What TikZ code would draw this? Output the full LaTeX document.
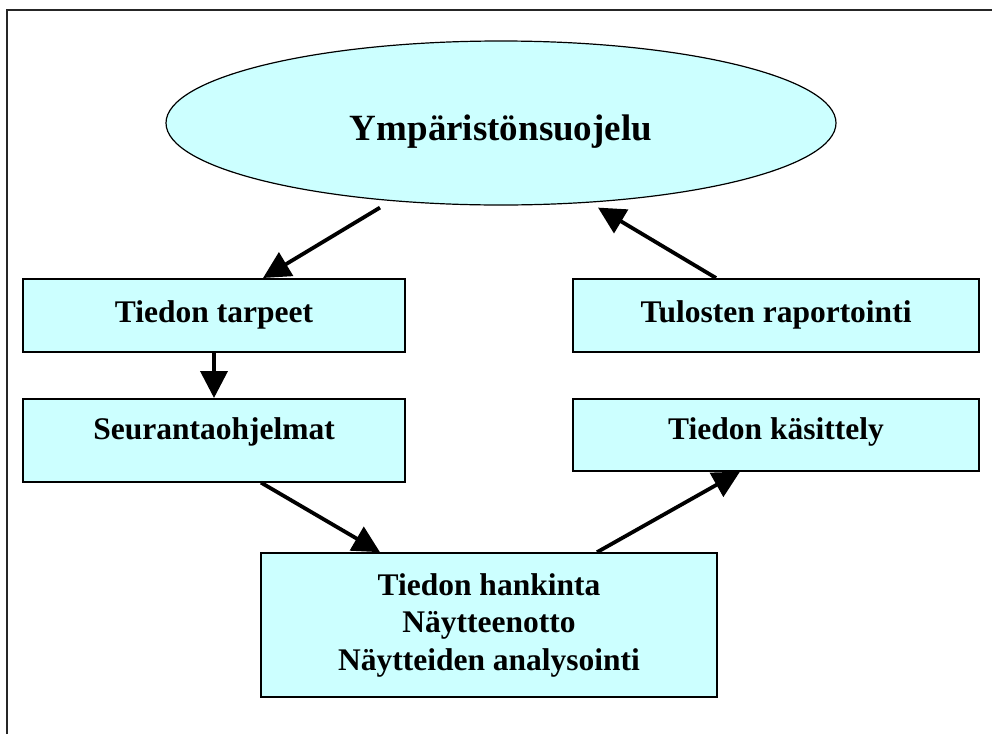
\documentclass[tikz,border=0pt]{standalone}
\usepackage{fontspec}
\setmainfont{Liberation Serif}
\usetikzlibrary{arrows.meta,shapes.geometric}
\definecolor{vaaleasyaani}{HTML}{CCFFFF}
\begin{document}
\begin{tikzpicture}[x=1pt,y=-1pt,
  laatikko/.style={draw=black,fill=vaaleasyaani,line width=1.6pt,inner sep=0pt,font=\bfseries\fontsize{31.5}{37.5}\selectfont},
  ellipsi/.style={draw=black,fill=vaaleasyaani,ellipse,line width=1.2pt,inner sep=0pt,minimum width=670pt,minimum height=164pt,text height=40pt,text depth=6pt,font=\bfseries\fontsize{37}{44}\selectfont},
  nuoli/.style={line width=3.8pt,-{Triangle[length=27pt,width=27pt]}}]
\useasboundingbox (0,0) rectangle (992,734);
% kehys
\draw[black!85,line width=1.5pt] (7,734)--(7,10)--(992,10);
\node[ellipsi] (ymp) at (501,123) {Ympäristönsuojelu};
\node[laatikko,anchor=north,minimum width=382pt,text height=44pt,text depth=29pt] (tarpeet) at (214,278) {Tiedon tarpeet};
\node[laatikko,anchor=north,minimum width=406pt,text height=44pt,text depth=29pt] (rap) at (776,278) {Tulosten raportointi};
\node[laatikko,anchor=north,minimum width=382pt,text height=41pt,text depth=42pt] (seuranta) at (214,398) {Seurantaohjelmat};
\node[laatikko,anchor=north,minimum width=406pt,text height=41pt,text depth=31pt] (kasittely) at (776,398) {Tiedon käsittely};
\node[laatikko,minimum width=456pt,minimum height=144pt,align=center] (hankinta) at (489,625) {Tiedon hankinta\\Näytteenotto\\Näytteiden analysointi};
% nuolet
\draw[nuoli] ([xshift=-121pt,yshift=-2pt]ymp.south)--([xshift=49pt]tarpeet.north);
\draw[nuoli] ([xshift=-60pt]rap.north)--([xshift=97pt,yshift=-2pt]ymp.south);
\draw[nuoli] (tarpeet.south)--(seuranta.north);
\draw[nuoli] ([xshift=47pt]seuranta.south)--([xshift=-109pt]hankinta.north);
\draw[nuoli] ([xshift=108pt]hankinta.north)--([xshift=-36pt]kasittely.south);
\end{tikzpicture}
\end{document}
